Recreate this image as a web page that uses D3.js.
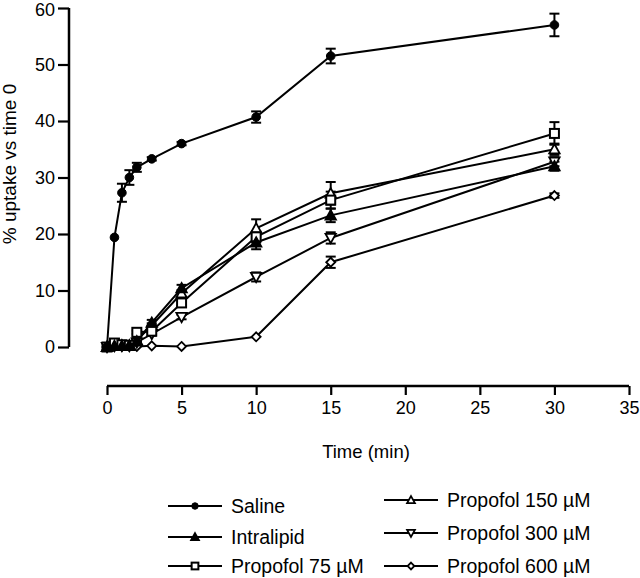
<!DOCTYPE html>
<html>
<head>
<meta charset="utf-8">
<script src="https://cdn.jsdelivr.net/npm/d3@7"></script>
<style>
  html, body { margin: 0; padding: 0; background: #fff; }
  svg { display: block; font-family: "Liberation Sans", Arial, sans-serif; }
</style>
</head>
<body>
<svg id="chart" width="640" height="578"></svg>
<script>
// ---- data ----
const times = [0, 0.5, 1, 1.5, 2, 3, 5, 10, 15, 30];
const seriesNames = ["Saline", "Intralipid", "Propofol 75 µM", "Propofol 150 µM", "Propofol 300 µM", "Propofol 600 µM"];
const saline      = [0, 19.4, 27.3, 30.0, 31.8, 33.3, 36.0, 40.7, 51.5, 57.0];
const salineErr   = [0, 0, 1.6, 1.3, 0.8, 0.3, 0.3, 1.0, 1.3, 2.0];
const intralipid  = [0, 0.2, 0.2, 0.3, 1.0, 4.3, 10.4, 18.5, 23.3, 32.0];
const intraErr    = [0, 0, 0, 0, 0.3, 0.5, 0.6, 1.2, 1.2, 0.8];
const prop75      = [0, 0.7, 0.4, 0.3, 2.6, 2.8, 7.8, 19.5, 26.0, 37.8];
const prop75Err   = [0, 0, 0, 0, 0.3, 0.4, 0.6, 1.0, 1.5, 2.0];
const prop150     = [0, 0.3, 0.3, 0.2, 1.2, 3.8, 9.5, 21.0, 27.2, 35.0];
const prop150Err  = [0, 0, 0, 0, 0.3, 0.4, 0.6, 1.6, 2.0, 1.0];
const prop300     = [0, 0.2, 0.2, 0.2, 0.8, 2.3, 5.3, 12.4, 19.3, 32.8];
const prop300Err  = [0, 0, 0, 0, 0.2, 0.3, 0.4, 0.8, 1.0, 0.8];
const prop600     = [0, 0.1, 0.1, 0.1, 0.1, 0.2, 0.1, 1.8, 15.0, 26.8];
const prop600Err  = [0, 0, 0, 0, 0, 0, 0, 0, 1.0, 0.4];
const xTicks = [0, 5, 10, 15, 20, 25, 30, 35];
const yTicks = [0, 10, 20, 30, 40, 50, 60];

const series = [
  { name: seriesNames[0], values: saline,     err: salineErr,  symbol: "circle",   fill: "#000" },
  { name: seriesNames[1], values: intralipid, err: intraErr,   symbol: "triUp",    fill: "#000" },
  { name: seriesNames[2], values: prop75,     err: prop75Err,  symbol: "square",   fill: "#fff" },
  { name: seriesNames[3], values: prop150,    err: prop150Err, symbol: "triUp",    fill: "#fff" },
  { name: seriesNames[4], values: prop300,    err: prop300Err, symbol: "triDown",  fill: "#fff" },
  { name: seriesNames[5], values: prop600,    err: prop600Err, symbol: "diamond",  fill: "#fff" }
];

const FONT = "Liberation Sans, Arial, sans-serif";
const svg = d3.select("#chart");
const x = d3.scaleLinear().domain([0, 35]).range([107, 629]);
const y = d3.scaleLinear().domain([0, 60]).range([347, 8]);

// ---- y axis ----
const yAxis = svg.append("g").attr("transform", "translate(69,0)")
  .call(d3.axisLeft(y).tickValues(yTicks).tickSize(11).tickPadding(3).tickFormat(d3.format("d")));
yAxis.select(".domain").attr("stroke", "#000").attr("stroke-width", 2.5).attr("d", `M0,${y(60)}V${y(0)}`);
yAxis.selectAll(".tick line").attr("stroke", "#000").attr("stroke-width", 2.2);
yAxis.selectAll(".tick text").attr("font-size", 18).attr("fill", "#000").attr("font-family", FONT)
  .attr("dy", (d) => d === 60 ? "0.42em" : "0.32em");

// ---- x axis ----
const xAxis = svg.append("g").attr("transform", "translate(0,386)")
  .call(d3.axisBottom(x).tickValues(xTicks).tickSize(9).tickPadding(6).tickFormat(d3.format("d")));
xAxis.select(".domain").attr("stroke", "#000").attr("stroke-width", 2.5).attr("d", `M${x(0)},0H${x(35)}`);
xAxis.selectAll(".tick line").attr("stroke", "#000").attr("stroke-width", 2.2).attr("y1", 0).attr("y2", 9);
xAxis.selectAll(".tick text").attr("font-size", 18).attr("fill", "#000").attr("font-family", FONT);

// ---- axis titles ----
svg.append("text").attr("x", 366).attr("y", 458).attr("text-anchor", "middle")
  .attr("font-size", 18.5).text("Time (min)");
svg.append("text").attr("transform", "translate(16,164) rotate(-90)").attr("text-anchor", "middle")
  .attr("font-size", 19).text("% uptake vs time 0");

// ---- symbols ----
function drawSymbol(g, type, cx, cy, fill, scale) {
  const s = scale || 1;
  if (type === "circle") {
    g.append("circle").attr("cx", cx).attr("cy", cy).attr("r", 4.3 * s)
      .attr("fill", fill).attr("stroke", "#000").attr("stroke-width", 1);
  } else if (type === "square") {
    const h = 4.5 * s;
    g.append("rect").attr("x", cx - h).attr("y", cy - h).attr("width", 2 * h).attr("height", 2 * h)
      .attr("fill", fill).attr("stroke", "#000").attr("stroke-width", 2);
  } else if (type === "triUp") {
    const h = 5.2 * s;
    g.append("path").attr("d", `M${cx},${cy - h}L${cx + h},${cy + h * 0.8}L${cx - h},${cy + h * 0.8}Z`)
      .attr("fill", fill).attr("stroke", "#000").attr("stroke-width", 1.8);
  } else if (type === "triDown") {
    const h = 5.2 * s;
    g.append("path").attr("d", `M${cx},${cy + h}L${cx + h},${cy - h * 0.8}L${cx - h},${cy - h * 0.8}Z`)
      .attr("fill", fill).attr("stroke", "#000").attr("stroke-width", 1.8);
  } else if (type === "diamond") {
    const h = 4.5 * s;
    g.append("path").attr("d", `M${cx},${cy - h}L${cx + h},${cy}L${cx},${cy + h}L${cx - h},${cy}Z`)
      .attr("fill", fill).attr("stroke", "#000").attr("stroke-width", 1.8);
  }
}

const line = d3.line().x(d => x(d[0])).y(d => y(d[1]));
const plot = svg.append("g");

// lines
series.forEach(s => {
  const pts = times.map((t, i) => [t, s.values[i]]);
  plot.append("path").attr("d", line(pts)).attr("fill", "none")
    .attr("stroke", "#000").attr("stroke-width", 2);
});

// error bars
series.forEach(s => {
  times.forEach((t, i) => {
    const e = s.err[i];
    if (!e) return;
    const cx = x(t), y1 = y(s.values[i] + e), y2 = y(s.values[i] - e);
    const g = plot.append("g").attr("stroke", "#000").attr("stroke-width", 2);
    g.append("line").attr("x1", cx).attr("x2", cx).attr("y1", y1).attr("y2", y2);
    g.append("line").attr("x1", cx - 5).attr("x2", cx + 5).attr("y1", y1).attr("y2", y1);
    g.append("line").attr("x1", cx - 5).attr("x2", cx + 5).attr("y1", y2).attr("y2", y2);
  });
});

// markers
series.slice().reverse().forEach(s => {
  const g = plot.append("g");
  times.forEach((t, i) => drawSymbol(g, s.symbol, x(t), y(s.values[i]), s.fill));
});

// ---- legend ----
const legendPos = [
  { lx: 168, ly: 506 }, { lx: 168, ly: 537 }, { lx: 168, ly: 566 },
  { lx: 384, ly: 500 }, { lx: 384, ly: 533 }, { lx: 384, ly: 566 }
];
series.forEach((s, i) => {
  const p = legendPos[i];
  const g = svg.append("g");
  g.append("line").attr("x1", p.lx).attr("x2", p.lx + 54).attr("y1", p.ly).attr("y2", p.ly)
    .attr("stroke", "#000").attr("stroke-width", 2);
  drawSymbol(g, s.symbol, p.lx + 27, p.ly, s.fill, 0.75);
  g.append("text").attr("x", p.lx + 63).attr("y", p.ly + 7).attr("font-size", 19.5).text(s.name);
});
</script>
</body>
</html>
